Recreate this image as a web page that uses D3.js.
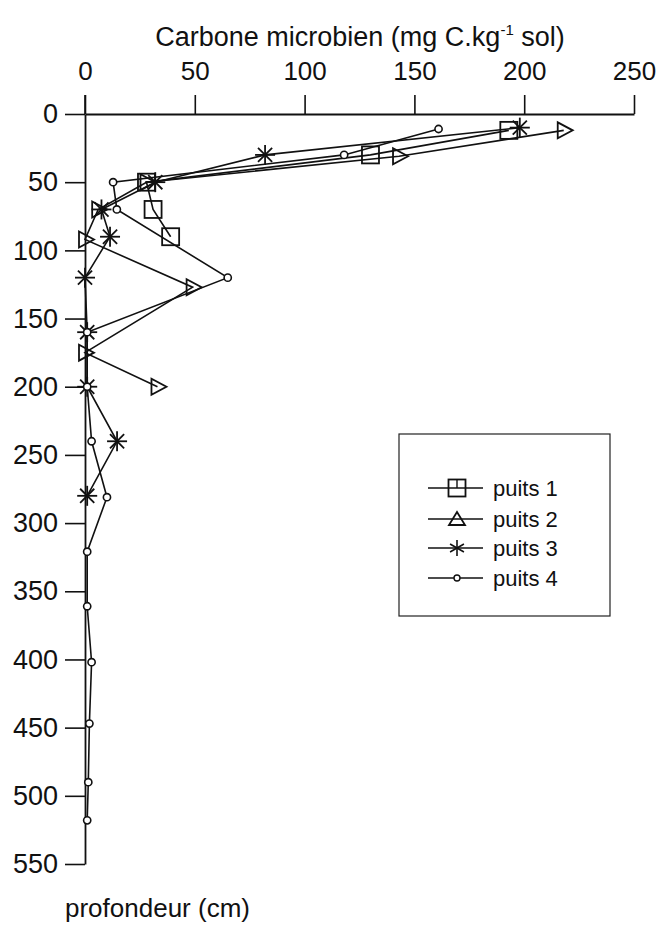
<!DOCTYPE html>
<html><head><meta charset="utf-8">
<script src="https://cdn.jsdelivr.net/npm/d3@7/dist/d3.min.js"></script>
<style>body{margin:0;background:#fff}svg{display:block}text{font-family:"Liberation Sans",Arial,sans-serif;fill:#111}</style>
</head><body><svg id="c" width="664" height="946"></svg>
<script>
// Data (depth in cm, microbial carbon in mg C/kg soil)
const seriesNames = ["puits 1", "puits 2", "puits 3", "puits 4"];
const depth1 = [12, 30, 50, 70, 90];
const carbon1 = [193, 130, 28, 31, 39];
const depth2 = [12, 31, 50, 70, 92, 127, 175, 200];
const carbon2 = [218, 143, 28, 6, 0, 49, 0, 33];
const depth3 = [10, 30, 50, 70, 90, 120, 160, 200, 240, 280];
const carbon3 = [198, 82, 32, 7.5, 11.4, 0, 1, 1, 14.6, 1];
const depth4 = [11, 30, 50, 70, 120, 160, 200, 240, 281, 321, 361, 402, 447, 490, 518];
const carbon4 = [161, 118, 12.8, 14.5, 65, 1, 1, 3, 10, 1, 1, 3, 2, 1.5, 1];
const xTicks = [0, 50, 100, 150, 200, 250];
const yTicks = [0, 50, 100, 150, 200, 250, 300, 350, 400, 450, 500, 550];
const markers = ["square", "triangle", "star", "circle"];

const svg = d3.select("#c");
const x = d3.scaleLinear().domain([0, 250]).range([85, 634]);
const y = d3.scaleLinear().domain([0, 550]).range([114, 864]);
const FONT = "Liberation Sans, Arial, sans-serif";

// X axis (top)
const xAxis = d3.axisTop(x).tickValues(xTicks).tickSize(19).tickPadding(15).tickSizeOuter(0);
const gx = svg.append("g").attr("transform", "translate(0,114)").call(xAxis);
gx.select(".domain").attr("stroke", "#111").attr("stroke-width", 1.8);
gx.selectAll(".tick line").attr("stroke", "#111").attr("stroke-width", 1.6);
gx.selectAll(".tick text").attr("font-size", 26).style("fill", "#111").attr("font-family", FONT);

// Y axis (left)
const yAxis = d3.axisLeft(y).tickValues(yTicks).tickSize(20).tickPadding(7).tickSizeOuter(0);
const gy = svg.append("g").attr("transform", "translate(85,0)").call(yAxis);
gy.select(".domain").attr("stroke", "#111").attr("stroke-width", 1.8);
gy.selectAll(".tick line").attr("stroke", "#111").attr("stroke-width", 1.6);
gy.selectAll(".tick text").attr("font-size", 27).style("fill", "#111").attr("font-family", FONT);
// Upward extension of the zero tick
svg.append("line").attr("x1", x(0)).attr("x2", x(0)).attr("y1", 95).attr("y2", 114).attr("stroke", "#111").attr("stroke-width", 1.6);

// Title
const t = svg.append("text").attr("x", 360).attr("y", 46).attr("text-anchor", "middle").attr("font-size", 27);
t.append("tspan").text("Carbone microbien (mg C.kg");
t.append("tspan").attr("font-size", 15).attr("dy", -11).text("-1");
t.append("tspan").attr("dy", 11).text(" sol)");

svg.append("text").attr("x", 65).attr("y", 917).attr("font-size", 26).text("profondeur (cm)");

// Series
const series = [
  {d: depth1, c: carbon1}, {d: depth2, c: carbon2},
  {d: depth3, c: carbon3}, {d: depth4, c: carbon4}
];
const line = d3.line().x(p => x(p[1])).y(p => y(p[0]));

function drawMarker(g, type, cx, cy, legend) {
  if (type === "square") {
    g.append("rect").attr("x", cx - 8.5).attr("y", cy - 8.5).attr("width", 17).attr("height", 17)
      .attr("fill", "none").attr("stroke", "#111").attr("stroke-width", 1.8);
    if (legend) g.append("line").attr("x1", cx).attr("x2", cx).attr("y1", cy - 8.5).attr("y2", cy).attr("stroke", "#111").attr("stroke-width", 1.4);
  } else if (type === "triangle") {
    const pts = legend
      ? [[cx - 8, cy + 6], [cx + 8, cy + 6], [cx, cy - 7]]
      : [[cx - 6, cy - 8], [cx - 6, cy + 8], [cx + 9, cy]];
    g.append("polygon").attr("points", pts.map(p => p.join(",")).join(" "))
      .attr("fill", "none").attr("stroke", "#111").attr("stroke-width", 1.8);
  } else if (type === "star") {
    const r = 10;
    for (let i = 0; i < 4; i++) {
      const a = i * Math.PI / 4;
      g.append("line").attr("x1", cx - r * Math.cos(a)).attr("y1", cy - r * Math.sin(a))
        .attr("x2", cx + r * Math.cos(a)).attr("y2", cy + r * Math.sin(a))
        .attr("stroke", "#111").attr("stroke-width", 1.8);
    }
  } else {
    g.append("circle").attr("cx", cx).attr("cy", cy).attr("r", 3.6)
      .attr("fill", "#fff").attr("stroke", "#111").attr("stroke-width", 1.6);
  }
}

series.forEach((s, i) => {
  const pts = s.d.map((d, k) => [d, s.c[k]]);
  svg.append("path").attr("d", line(pts)).attr("fill", "none").attr("stroke", "#111").attr("stroke-width", 1.6);
});
series.forEach((s, i) => {
  const g = svg.append("g");
  s.d.forEach((d, k) => drawMarker(g, markers[i], x(s.c[k]), y(d), false));
});

// Legend
svg.append("rect").attr("x", 399).attr("y", 434).attr("width", 211).attr("height", 182)
  .attr("fill", "none").attr("stroke", "#222").attr("stroke-width", 1.2);
const legY = [488, 519, 548, 578];
seriesNames.forEach((n, i) => {
  const g = svg.append("g");
  g.append("line").attr("x1", 428).attr("x2", 483).attr("y1", legY[i]).attr("y2", legY[i]).attr("stroke", "#111").attr("stroke-width", 1.4);
  if (markers[i] === "circle") {
    g.append("circle").attr("cx", 457).attr("cy", legY[i]).attr("r", 3).attr("fill", "#fff").attr("stroke", "#111").attr("stroke-width", 1.4);
  } else if (markers[i] === "star") {
    const r = 8;
    for (let k = 0; k < 3; k++) {
      const a = Math.PI / 2 + k * Math.PI / 3;
      g.append("line").attr("x1", 457 - r * Math.cos(a)).attr("y1", legY[i] - r * Math.sin(a))
        .attr("x2", 457 + r * Math.cos(a)).attr("y2", legY[i] + r * Math.sin(a)).attr("stroke", "#111").attr("stroke-width", 1.6);
    }
  } else {
    drawMarker(g, markers[i], 457, legY[i], true);
  }
  g.append("text").attr("x", 493).attr("y", legY[i] + 8).attr("font-size", 22).text(n);
});
</script></body></html>
